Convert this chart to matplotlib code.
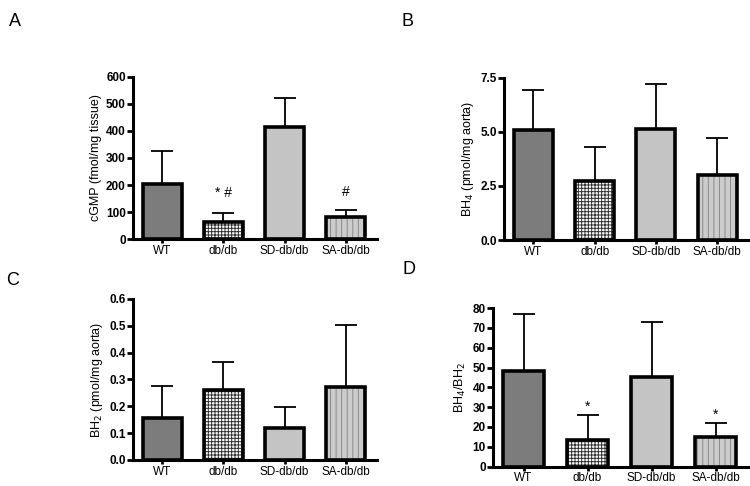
import numpy as np
import matplotlib.pyplot as plt

plt.rcParams['font.family'] = ['Liberation Sans', 'DejaVu Sans']
plt.rcParams['hatch.linewidth'] = 0.7

# groups shown on every panel
groups = ['WT', 'db/db', 'SD-db/db', 'SA-db/db']

# panel values (mean) and upper error (SD)
cgmp_mean = [205, 65, 415, 80]
cgmp_err = [120, 30, 105, 27]
bh4_mean = [5.1, 2.75, 5.15, 3.0]
bh4_err = [1.85, 1.53, 2.05, 1.7]
bh2_mean = [0.155, 0.26, 0.12, 0.272]
bh2_err = [0.12, 0.105, 0.078, 0.23]
ratio_mean = [48, 13.5, 45, 15]
ratio_err = [29, 12.5, 28, 7]


def draw_panel(ax, mean, err, ylim, yticks, yticklabels, ylabel, ylabel_weight='normal'):
    x = np.arange(len(groups))
    w = 0.64
    # fills
    ax.bar(x[0], mean[0], w, color='#7c7c7c', zorder=2)
    ax.bar(x[1], mean[1], w, color='white', edgecolor='#333333', hatch='+++++', lw=0, zorder=2)
    ax.bar(x[2], mean[2], w, color='#c4c4c4', zorder=2)
    ax.bar(x[3], mean[3], w, color='#cccccc', edgecolor='#8a8a8a', hatch='|||', lw=0, zorder=2)
    # thick outlines
    ax.bar(x, mean, w, fill=False, edgecolor='black', lw=2.6, zorder=3)
    # upper error bars only
    ax.errorbar(x, mean, yerr=[np.zeros(len(err)), err], fmt='none', ecolor='black',
                elinewidth=1.3, capsize=8, capthick=1.3, zorder=1)
    ax.set_xlim(-0.48, 3.5)
    ax.set_ylim(*ylim)
    ax.set_yticks(yticks)
    ax.set_yticklabels(yticklabels, fontsize=8.5, fontweight='bold')
    ax.set_xticks(x)
    ax.set_xticklabels(groups, fontsize=8.5)
    ax.tick_params(axis='y', direction='out', width=2, length=4, pad=1)
    ax.tick_params(axis='x', direction='out', width=2, length=3, pad=1)
    for s in ['top', 'right']:
        ax.spines[s].set_visible(False)
    for s in ['left', 'bottom']:
        ax.spines[s].set_linewidth(2.2)
    ax.set_ylabel(ylabel, fontsize=9, fontweight=ylabel_weight, labelpad=3)


fig = plt.figure(figsize=(7.5, 4.86), dpi=100)

axA = fig.add_axes([0.177, 0.508, 0.325, 0.334])
draw_panel(axA, cgmp_mean, cgmp_err, (0, 600), [0, 100, 200, 300, 400, 500, 600],
           ['0', '100', '200', '300', '400', '500', '600'], 'cGMP (fmol/mg tissue)')
axA.text(1, 145, '* #', ha='center', va='bottom', fontsize=10)
axA.text(3, 150, '#', ha='center', va='bottom', fontsize=10)

axB = fig.add_axes([0.672, 0.506, 0.325, 0.334])
draw_panel(axB, bh4_mean, bh4_err, (0, 7.5), [0, 2.5, 5.0, 7.5],
           ['0.0', '2.5', '5.0', '7.5'], 'BH$_4$ (pmol/mg aorta)')

axC = fig.add_axes([0.177, 0.0535, 0.325, 0.3315])
draw_panel(axC, bh2_mean, bh2_err, (0, 0.6), [0, 0.1, 0.2, 0.3, 0.4, 0.5, 0.6],
           ['0.0', '0.1', '0.2', '0.3', '0.4', '0.5', '0.6'], 'BH$_2$ (pmol/mg aorta)')

axD = fig.add_axes([0.657, 0.04, 0.34, 0.326])
draw_panel(axD, ratio_mean, ratio_err, (0, 80), [0, 10, 20, 30, 40, 50, 60, 70, 80],
           ['0', '10', '20', '30', '40', '50', '60', '70', '80'], 'BH$_4$/BH$_2$')
axD.text(1, 26.5, '*', ha='center', va='bottom', fontsize=10)
axD.text(3, 22.5, '*', ha='center', va='bottom', fontsize=10)

fig.text(0.012, 0.955, 'A', fontsize=13, va='center')
fig.text(0.535, 0.955, 'B', fontsize=13, va='center')
fig.text(0.008, 0.422, 'C', fontsize=13, va='center')
fig.text(0.537, 0.445, 'D', fontsize=13, va='center')

fig.savefig('out.png', dpi=100)
